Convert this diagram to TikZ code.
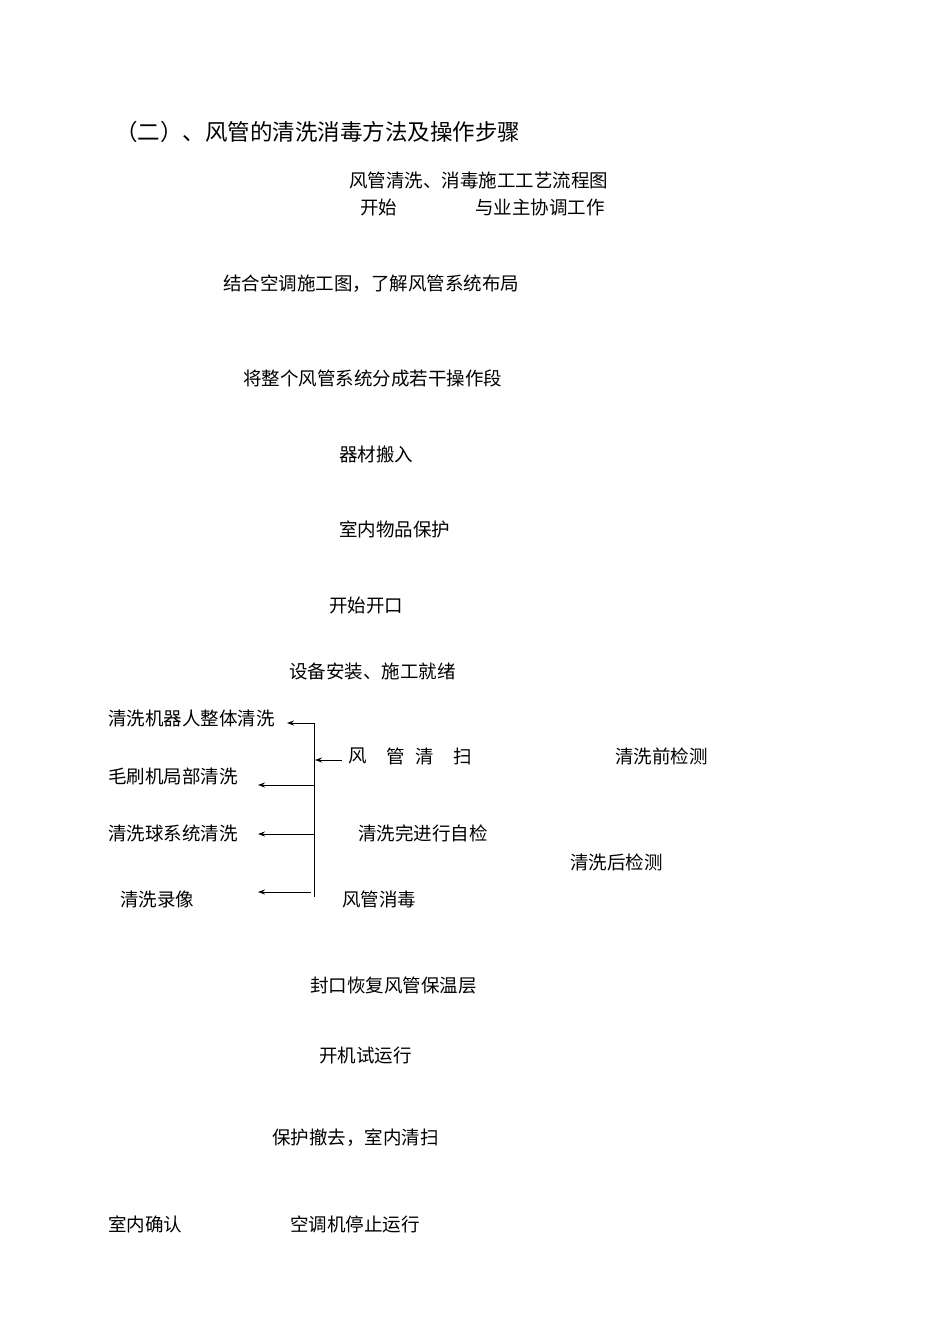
\documentclass[tikz,border=0pt]{standalone}
\usepackage{fontspec}
\usetikzlibrary{arrows.meta}
\setmainfont{Noto Sans CJK SC}
\begin{document}
\begin{tikzpicture}[x=1pt,y=-1pt,
  t/.style={anchor=west,inner sep=0pt,font=\fontsize{18.5}{20}\selectfont},
  ar/.style={-{Stealth[length=7pt,width=5pt]},line width=1pt}]
\useasboundingbox (0,0) rectangle (950,1344);
\node[t,font=\fontsize{22.5}{24}\selectfont] (title) at (115,132) {（二）、风管的清洗消毒方法及操作步骤};
\node[t] (h) at (349,180) {风管清洗、消毒施工工艺流程图};
\node[t] (a1) at (360,207) {开始};
\node[t] (a2) at (475,207) {与业主协调工作};
\node[t] (b) at (223,284) {结合空调施工图，了解风管系统布局};
\node[t] (c) at (243,378) {将整个风管系统分成若干操作段};
\node[t] (d) at (339,454) {器材搬入};
\node[t] (e) at (339,529) {室内物品保护};
\node[t] (f) at (329,605) {开始开口};
\node[t] (g) at (289,671) {设备安装、施工就绪};
\node[t] (l1) at (108,718) {清洗机器人整体清洗};
\node[t] (w1) at (348,756) {风};
\node[t] (w2) at (386,756) {管};
\node[t] (w3) at (415,756) {清};
\node[t] (w4) at (453,756) {扫};
\node[t] (p1) at (615,756) {清洗前检测};
\node[t] (l2) at (108,776) {毛刷机局部清洗};
\node[t] (l3) at (108,833) {清洗球系统清洗};
\node[t] (s) at (358,833) {清洗完进行自检};
\node[t] (p2) at (570,862) {清洗后检测};
\node[t] (l4) at (120,899) {清洗录像};
\node[t] (m) at (342,899) {风管消毒};
\node[t] (n) at (310,986) {封口恢复风管保温层};
\node[t] (o) at (319,1055) {开机试运行};
\node[t] (q) at (272,1138) {保护撤去，室内清扫};
\node[t] (r1) at (108,1224) {室内确认};
\node[t] (r2) at (290,1224) {空调机停止运行};
\coordinate (top) at (314,723);
\coordinate (bot) at (314,897);
\draw[line width=1pt] (top) -- (bot);
\draw[ar] (top) -- (287,723);
\draw[ar] (w1.west) ++(-6,4) -- (315,760);
\draw[ar] (314,785) -- (258,785);
\draw[ar] (314,834) -- (258,834);
\draw[ar] (311,892) -- (258,892);
\end{tikzpicture}
\end{document}
